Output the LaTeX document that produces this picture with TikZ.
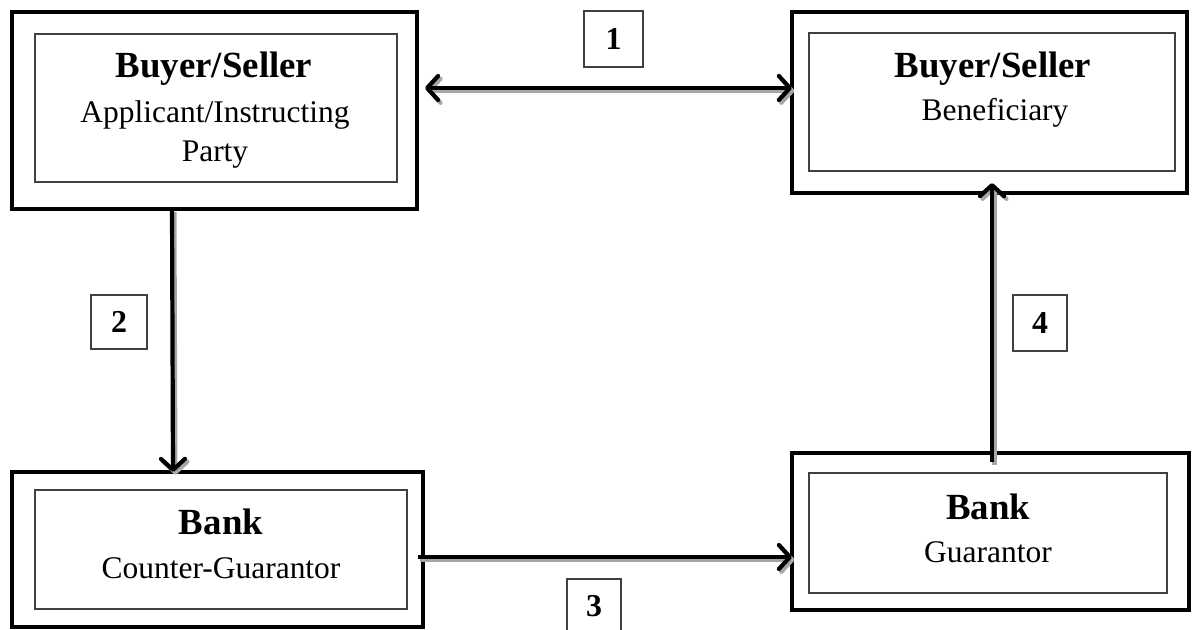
\documentclass[tikz,border=0pt]{standalone}
\usepackage{fontspec}
\setmainfont{Liberation Serif}
\usetikzlibrary{arrows.meta}
\begin{document}
\begin{tikzpicture}[x=0.5bp,y=-0.5bp,
  outerbox/.style={draw=black,line width=2.2bp,inner sep=0pt,outer sep=0pt},
  innerbox/.style={draw=black!75,line width=0.6bp,inner sep=0pt,outer sep=0pt},
  numbox/.style={draw=black!75,line width=0.6bp,inner sep=0pt,font=\fontsize{16}{18}\selectfont\bfseries},
  ttl/.style={anchor=base,inner sep=0pt,font=\fontsize{18.5}{22}\selectfont\bfseries},
  sub/.style={anchor=base,inner sep=0pt,font=\fontsize{15.8}{19}\selectfont},
  tip/.tip={Straight Barb[length=5.5bp,width=12bp,round]},
  conn/.style={line width=2.1bp,tip-tip,
    preaction={draw=black!35,line width=2.1bp,transform canvas={shift={(1.2bp,-1.4bp)}}}},
  one/.style={line width=2.1bp,-tip,
    preaction={draw=black!35,line width=2.1bp,transform canvas={shift={(1.2bp,-1.4bp)}}}}
]
\useasboundingbox (0,0) rectangle (1194,629);
% boxes
\node[outerbox,minimum width=202.5bp,minimum height=98.5bp] (tlo) at (214.5,110.5) {};
\node[innerbox,minimum width=181bp,minimum height=74bp] (tli) at (216,108) {};
\node[outerbox,minimum width=197.5bp,minimum height=90.5bp] (tro) at (989.5,102.5) {};
\node[innerbox,minimum width=183bp,minimum height=69bp] (tri) at (992,102) {};
\node[outerbox,minimum width=205.5bp,minimum height=77.5bp] (blo) at (217.5,549.5) {};
\node[innerbox,minimum width=186bp,minimum height=59.5bp] (bli) at (221,549.5) {};
\node[outerbox,minimum width=198.5bp,minimum height=78.5bp] (bro) at (990.5,531.5) {};
\node[innerbox,minimum width=179bp,minimum height=60bp] (bri) at (988,533) {};
% texts
\node[ttl] (t1) at (214,78) {Buyer/Seller};
\node[sub] (t2) at (215,123) {Applicant/Instructing};
\node[sub] (t3) at (215,162) {Party};
\node[ttl] (t4) at (993,78) {Buyer/Seller};
\node[sub] (t5) at (995,121) {Beneficiary};
\node[ttl] (t6) at (221,534) {Bank};
\node[sub] (t7) at (221,578) {Counter-Guarantor};
\node[ttl] (t8) at (988,519) {Bank};
\node[sub] (t9) at (988,562) {Guarantor};
% number boxes
\node[numbox,minimum width=29.5bp,minimum height=28bp] (n1) at (613.5,39) {1};
\node[numbox,minimum width=28bp,minimum height=27bp] (n2) at (119,322) {2};
\node[numbox,minimum width=27bp,minimum height=27bp] (n3) at (594,606) {3};
\node[numbox,minimum width=27bp,minimum height=28bp] (n4) at (1040,323) {4};
% connectors
\draw[conn] ([shift={(8,-22.5)}]tlo.east) -- ([shift={(0,-14.5)}]tro.west);
\draw[one] ([shift={(-42.5,0)}]tlo.south) -- ([shift={(-44.5,0)}]blo.north);
\draw[one] ([shift={(-5,7.5)}]blo.east) -- ([shift={(0,25.5)}]bro.west);
\draw[one] ([shift={(1.5,9)}]bro.north) -- ([shift={(2.5,-10)}]tro.south);
\end{tikzpicture}
\end{document}
